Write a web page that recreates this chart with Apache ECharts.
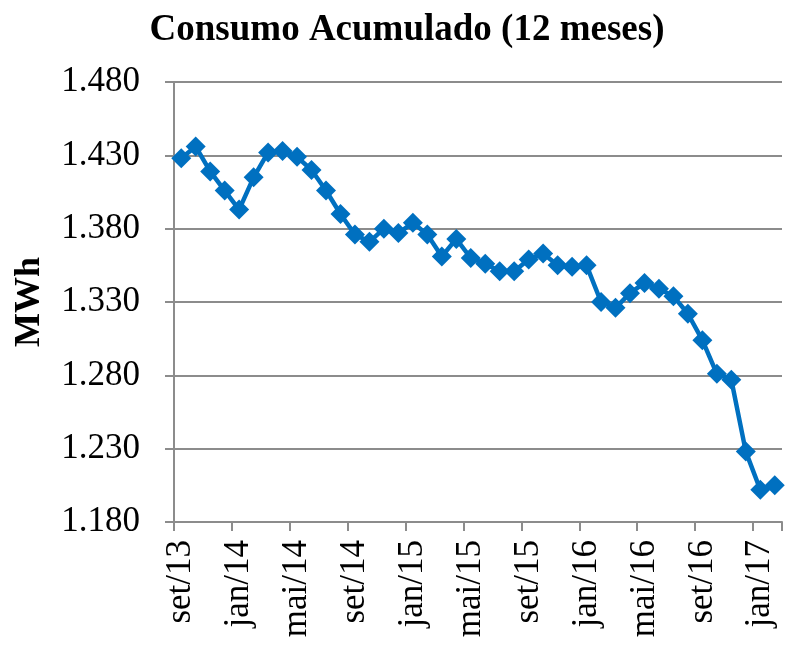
<!DOCTYPE html>
<html>
<head>
<meta charset="utf-8">
<script src="https://cdn.jsdelivr.net/npm/echarts@6/dist/echarts.min.js"></script>
<style>html,body{margin:0;padding:0;background:#fff}#c{width:796px;height:646px}</style>
</head>
<body>
<div id="c"></div>
<script>
const categories = [
  'set/13','out/13','nov/13','dez/13',
  'jan/14','fev/14','mar/14','abr/14','mai/14','jun/14','jul/14','ago/14','set/14','out/14','nov/14','dez/14',
  'jan/15','fev/15','mar/15','abr/15','mai/15','jun/15','jul/15','ago/15','set/15','out/15','nov/15','dez/15',
  'jan/16','fev/16','mar/16','abr/16','mai/16','jun/16','jul/16','ago/16','set/16','out/16','nov/16','dez/16',
  'jan/17','fev/17'
];
const consumo = [
  1.428, 1.436, 1.419, 1.406,
  1.393, 1.415, 1.432, 1.433, 1.429, 1.420, 1.406, 1.390, 1.376, 1.371, 1.380, 1.377,
  1.384, 1.376, 1.361, 1.373, 1.360, 1.356, 1.351, 1.351, 1.359, 1.363, 1.355, 1.354,
  1.355, 1.330, 1.326, 1.336, 1.343, 1.339, 1.334, 1.322, 1.304, 1.281, 1.277, 1.228,
  1.202, 1.205
];
const yMin = 1.18, yMax = 1.48, yStep = 0.05;

const font = 'Liberation Serif, Times New Roman, serif';
const gray = '#8c8c8c';
const chart = echarts.init(document.getElementById('c'), null, {renderer: 'canvas'});
chart.setOption({
  animation: false,
  backgroundColor: '#fff',
  title: {
    text: 'Consumo Acumulado (12 meses)',
    left: 402, top: 7, textAlign: 'center',
    textStyle: {fontFamily: font, fontWeight: 'bold', fontSize: 37, color: '#000'}
  },
  grid: {left: 174, right: 14, top: 82, bottom: 124, containLabel: false},
  xAxis: {
    type: 'category',
    data: categories,
    boundaryGap: true,
    axisLine: {lineStyle: {color: gray, width: 2}},
    axisTick: {show: true, interval: 3, length: 9, lineStyle: {color: gray, width: 2}},
    axisLabel: {interval: 3, rotate: 90, margin: 18, fontFamily: font, fontSize: 35, color: '#000'},
    splitLine: {show: false}
  },
  yAxis: {
    type: 'value',
    min: yMin, max: yMax, interval: yStep,
    name: 'MWh',
    nameLocation: 'middle',
    nameRotate: 90,
    nameGap: 126,
    nameTextStyle: {fontFamily: font, fontWeight: 'bold', fontSize: 36, color: '#000'},
    axisLine: {show: true, lineStyle: {color: gray, width: 2}},
    axisTick: {show: true, length: 9, lineStyle: {color: gray, width: 2}},
    axisLabel: {
      margin: 34, fontFamily: font, fontSize: 35, color: '#000',
      formatter: v => v.toFixed(3)
    },
    splitLine: {show: true, lineStyle: {color: gray, width: 2}}
  },
  series: [{
    type: 'line',
    data: consumo,
    symbol: 'diamond',
    symbolSize: 20,
    showAllSymbol: true,
    lineStyle: {color: '#0070C0', width: 4.5},
    itemStyle: {color: '#0070C0'}
  }]
});
</script>
</body>
</html>
